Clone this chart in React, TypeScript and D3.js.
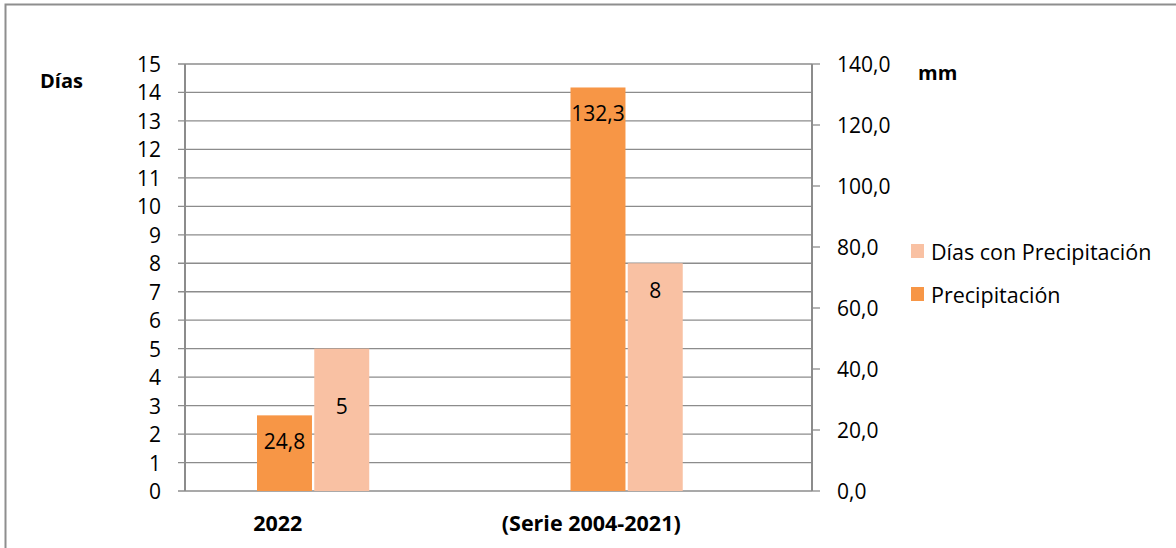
import React from "react";
import * as d3 from "d3";

const categories = ["2022", "(Serie 2004-2021)"];
const precipitacion = [24.8, 132.3];
const diasPrecipitacion = [5, 8];
const precipLabels = ["24,8", "132,3"];
const diasLabels = ["5", "8"];
const leftTicks = d3.range(0, 16, 1);
const rightTicks = [0, 20, 40, 60, 80, 100, 120, 140];

const W = 1176;
const H = 548;
const FONT = "'Open Sans', Calibri, sans-serif";
const ORANGE = "#F79646";
const LIGHT = "#F9C1A3";
const GRID = "#8c8c8c";

export default function App() {
  const plotL = 185, plotR = 812, plotT = 64, plotB = 491;
  const x0 = d3.scaleBand<string>().domain(categories).range([plotL, plotR]);
  const inner = d3.scaleBand<string>().domain(["p", "d", "_"]).range([-84.75, 84.75]).paddingInner(0.04);
  const yL = d3.scaleLinear().domain([0, 15]).range([plotB, plotT]);
  const yR = d3.scaleLinear().domain([0, 140]).range([plotB, plotT]);
  const dayLabelOffsets = [57, 27];

  return (
    <svg width={W} height={H} style={{ position: "absolute", left: 0, top: 0, background: "#fff" }} fontFamily={FONT}>
      <rect x={5.5} y={4.5} width={W + 20} height={H + 20} fill="#fff" stroke="#8e8e8e" strokeWidth={2} />
      {leftTicks.map((t) => (
        <line key={"g" + t} x1={plotL - 7} x2={plotR} y1={yL(t)} y2={yL(t)} stroke={GRID} strokeWidth={1.3} />
      ))}
      {categories.map((c, i) => {
        const cx = (x0(c) as number) + x0.bandwidth() / 2;
        return (
          <g key={c}>
            <rect x={cx + (inner("p") as number)} width={inner.bandwidth()} y={yR(precipitacion[i])} height={plotB - yR(precipitacion[i])} fill={ORANGE} />
            <rect x={cx + (inner("d") as number)} width={inner.bandwidth()} y={yL(diasPrecipitacion[i])} height={plotB - yL(diasPrecipitacion[i])} fill={LIGHT} />
            <text x={cx + (inner("p") as number) + inner.bandwidth() / 2} y={yR(precipitacion[i]) + 26} textAnchor="middle" dominantBaseline="central" fontSize={21} fill="#000">{precipLabels[i]}</text>
            <text x={cx + (inner("d") as number) + inner.bandwidth() / 2} y={yL(diasPrecipitacion[i]) + dayLabelOffsets[i]} textAnchor="middle" dominantBaseline="central" fontSize={21} fill="#000">{diasLabels[i]}</text>
            <text x={cx - 64} y={522} textAnchor="middle" dominantBaseline="central" fontSize={21.5} fontWeight="bold" fill="#000">{c}</text>
          </g>
        );
      })}
      <line x1={plotL} x2={plotL} y1={plotT} y2={plotB} stroke={GRID} strokeWidth={2} />
      <line x1={plotR} x2={plotR} y1={plotT} y2={plotB} stroke={GRID} strokeWidth={2} />
      {rightTicks.map((t) => (
        <line key={"rt" + t} x1={plotR} x2={plotR + 8} y1={yR(t)} y2={yR(t)} stroke={GRID} strokeWidth={1.3} />
      ))}
      {leftTicks.map((t) => (
        <text key={"lt" + t} x={161} y={yL(t)} textAnchor="end" dominantBaseline="central" fontSize={21} fill="#000">{t}</text>
      ))}
      {rightTicks.map((t) => (
        <text key={"rl" + t} x={837} y={yR(t)} textAnchor="start" dominantBaseline="central" fontSize={21} fill="#000">{d3.format(".1f")(t).replace(".", ",")}</text>
      ))}
      <text x={40} y={80} dominantBaseline="central" fontSize={20} fontWeight="bold" fill="#000">Días</text>
      <text x={918} y={72} dominantBaseline="central" fontSize={20} fontWeight="bold" fill="#000">mm</text>
      <rect x={911} y={244} width={13} height={14} fill={LIGHT} />
      <text x={931} y={251} dominantBaseline="central" fontSize={21.5} fill="#000">Días con Precipitación</text>
      <rect x={911} y={287} width={13} height={14} fill={ORANGE} />
      <text x={931} y={294} dominantBaseline="central" fontSize={21.5} fill="#000">Precipitación</text>
    </svg>
  );
}
